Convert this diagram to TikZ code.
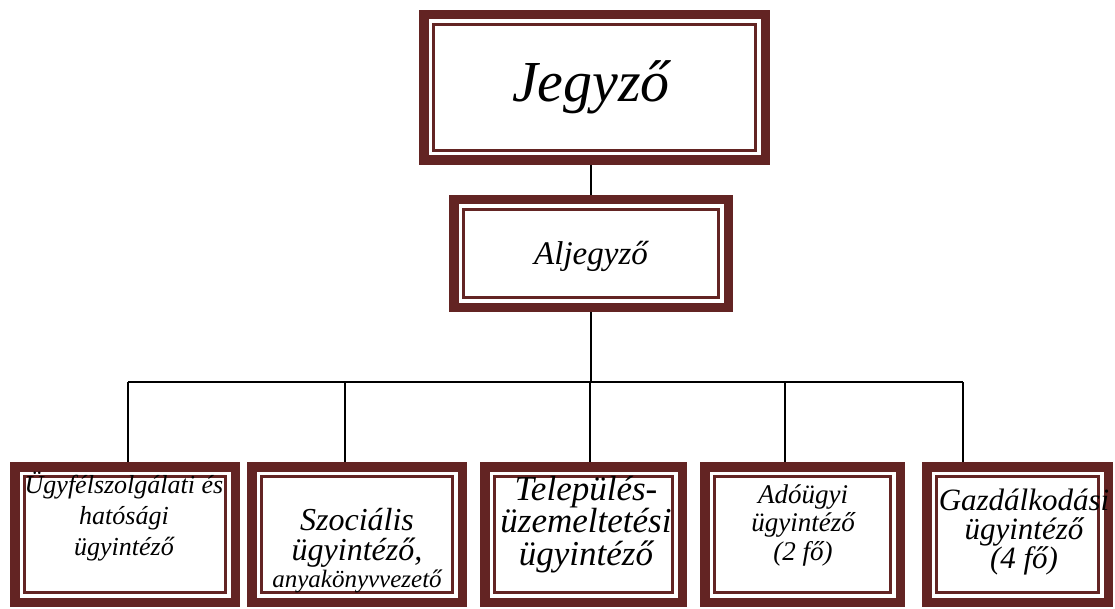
\documentclass[tikz,border=0pt]{standalone}
\usepackage{fontspec}
\setmainfont{Liberation Serif}
\usetikzlibrary{calc,backgrounds}
\definecolor{boxred}{RGB}{99,36,35}
\newcommand\boxtext[3]{\parbox[t]{240pt}{\centering\fontsize{#1}{#2}\selectfont\itshape #3\par}}
\tikzset{
  orgbox/.style 2 args={draw=boxred, line width=9.5pt, fill=white, inner sep=0pt,
    minimum width={#1pt-9.5pt}, minimum height={#2pt-9.5pt},
    path picture={\draw[boxred,line width=3pt]
      ([shift={(9.5pt,9.5pt)}]path picture bounding box.south west) rectangle
      ([shift={(-9.5pt,-9.5pt)}]path picture bounding box.north east);}},
  lbl/.style={anchor=base, inner sep=0pt},
  conn/.style={draw=black, line width=2pt}
}
\begin{document}
\begin{tikzpicture}[x=1pt,y=-1pt]
\useasboundingbox (0,0) rectangle (1115,609);
\node[orgbox={351}{155}] (J) at (594.5,87.5) {};
\node[lbl] (tJ) at (591,102) {\boxtext{58}{60}{Jegyző}};
\node[orgbox={284}{117}] (A) at (591,253.5) {};
\node[lbl] (tA) at (591,265) {\boxtext{33}{36}{Aljegyző}};

\node[orgbox={230}{145}] (B1) at (125,534.5) {};
\node[orgbox={220}{145}] (B2) at (357,534.5) {};
\node[orgbox={207}{145}] (B3) at (583.5,534.5) {};
\node[orgbox={205}{145}] (B4) at (802.5,534.5) {};
\node[orgbox={191}{145}] (B5) at (1017.5,534.5) {};

\node[lbl] (t1) at (124,493) {\boxtext{26}{31}{Ügyfélszolgálati és\\hatósági\\ügyintéző}};
\node[lbl] (t2) at (357,530) {\boxtext{32}{30}{Szociális\\ügyintéző,\par{\fontsize{25}{27}\selectfont anyakönyvvezető\par}}};
\node[lbl] (t3) at (586,500) {\boxtext{35}{32.5}{Település-\\üzemeltetési\\ügyintéző}};
\node[lbl] (t4) at (803,503) {\boxtext{27}{28.5}{Adóügyi\\ügyintéző\\(2 fő)}};
\node[lbl] (t5) at (1024,510) {\boxtext{31}{29}{Gazdálkodási\\ügyintéző\\(4 fő)}};

\coordinate (bus1) at (128,382);
\coordinate (bus2) at (345,382);
\coordinate (bus3) at (590,382);
\coordinate (bus4) at (785,382);
\coordinate (bus5) at (963,382);

\begin{scope}[on background layer]
\draw[conn] (A.north |- J.south) -- (A.north);
\draw[conn] (A.south) -- (A.south |- bus1);
\draw[conn] (bus1) -- (bus5);
\draw[conn] (bus1) -- (bus1 |- B1.north);
\draw[conn] (bus2) -- (bus2 |- B2.north);
\draw[conn] (bus3) -- (bus3 |- B3.north);
\draw[conn] (bus4) -- (bus4 |- B4.north);
\draw[conn] (bus5) -- (bus5 |- B5.north);
\end{scope}
\end{tikzpicture}
\end{document}
